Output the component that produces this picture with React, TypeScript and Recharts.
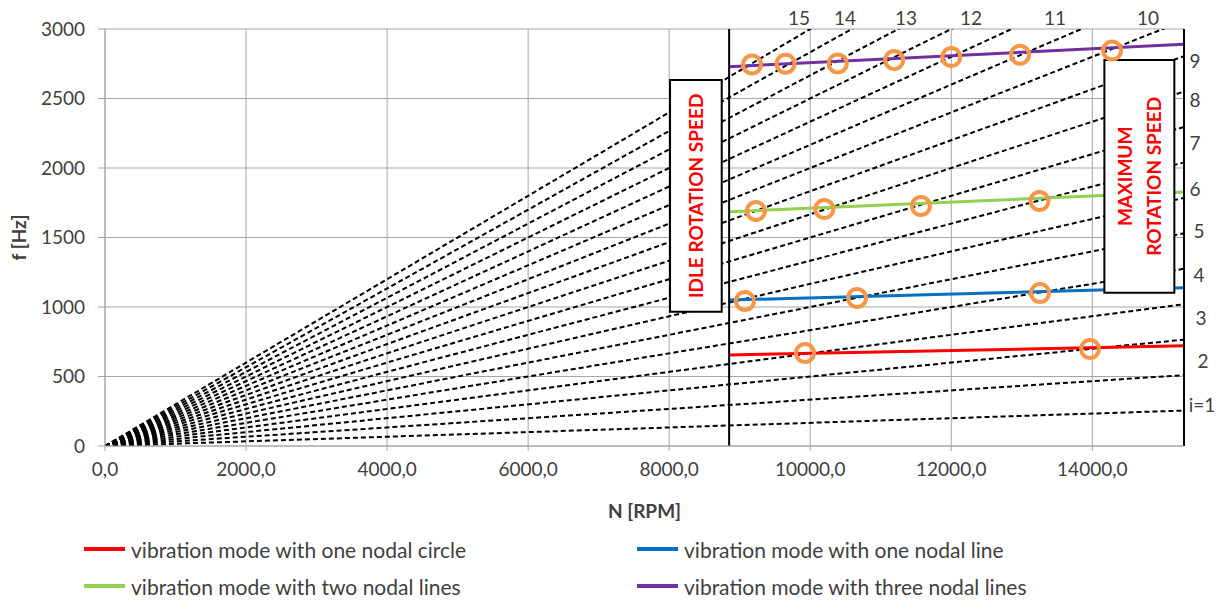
import React from 'react';
import {
  ComposedChart, Line, Scatter, XAxis, YAxis, CartesianGrid, ReferenceLine,
  ReferenceArea, ReferenceDot, Legend,
} from 'recharts';

const FONT = 'Lato, "Open Sans", sans-serif';
const TEXT = '#404040';

// Axes
const X_TICKS = [0, 2000, 4000, 6000, 8000, 10000, 12000, 14000];
const Y_TICKS = [0, 500, 1000, 1500, 2000, 2500, 3000];
const X_MAX = 15300;
const Y_MAX = 3000;

// Idle / maximum rotation speed [RPM]
const IDLE_N = 8850;
const MAX_N = 15300;

// Engine-order lines: frequency reached at MAX_N for order i
const ORDERS = [1, 2, 3, 4, 5, 6, 7, 8, 9, 10, 11, 12, 13, 14, 15, 16, 17, 18];
const ORDER_END_F = [255, 510, 765, 1020, 1275, 1530, 1785, 2040, 2295, 2550, 2805, 3060, 3315, 3570, 3825, 4080, 4335, 4590];

// Vibration modes (start at idle, end at max)
const MODE_NAMES = [
  'vibration mode with one nodal circle',
  'vibration mode with one nodal line',
  'vibration mode with two nodal lines',
  'vibration mode with three nodal lines',
];
const MODE_COLORS = ['#FF0000', '#0070C0', '#92D050', '#7030A0'];
const MODE_START_F = [655, 1050, 1686, 2729];
const MODE_END_F = [721, 1139, 1827, 2890];

// Resonance circles
const RED_PTS_N = [9926, 13968];
const RED_PTS_F = [669, 698];
const BLUE_PTS_N = [9075, 10664, 13258];
const BLUE_PTS_F = [1043, 1065, 1101];
const GREEN_PTS_N = [9230, 10200, 11570, 13250];
const GREEN_PTS_F = [1691, 1705, 1727, 1763];
const PURPLE_PTS_N = [9175, 9650, 10390, 11190, 12000, 12975, 14280];
const PURPLE_PTS_F = [2745, 2750, 2752, 2777, 2799, 2815, 2845];

// Order labels
const TOP_LABELS = ['15', '14', '13', '12', '11', '10'];
const TOP_LABELS_N = [9841, 10494, 11358, 12280, 13471, 14790];
const TOP_LABEL_F = 3086;
const RIGHT_LABELS = ['9', '8', '7', '6', '5', '4', '3', '2', 'i=1'];
const RIGHT_LABELS_N = [15457, 15457, 15457, 15457, 15513, 15513, 15542, 15570, 15556];
const RIGHT_LABELS_F = [2770, 2496, 2180, 1856, 1547, 1237, 928, 612, 295];

// Annotation boxes
const IDLE_BOX = { n1: 8012, n2: 8745, f1: 966, f2: 2633 };
const MAX_BOX = { n1: 14171, n2: 15163, f1: 1103, f2: 2777 };

const zip = (ns: number[], fs: number[]) => ns.map((N, k) => ({ N, f: fs[k] }));

const Ring = (p: any) => (
  <circle cx={p.cx} cy={p.cy} r={9} fill="none" stroke="#F79646" strokeWidth={4} />
);

const boxLabel = (lines: string[]) => (props: any) => {
  const vb = props.viewBox || {};
  const cx = vb.x + vb.width / 2;
  const cy = vb.y + vb.height / 2;
  const gap = 29;
  return (
    <g>
      {lines.map((t, k) => {
        const x = cx + (k - (lines.length - 1) / 2) * gap;
        return (
          <text key={k} x={x} y={cy} transform={`rotate(-90 ${x} ${cy})`} textAnchor="middle"
            dominantBaseline="central" fill="#FF0000" fontWeight="bold" fontSize={19} fontFamily={FONT}>
            {t}
          </text>
        );
      })}
    </g>
  );
};

const textShape = (t: string) => (p: any) => (
  <text x={p.cx} y={p.cy} textAnchor="middle" dominantBaseline="central" fill={TEXT}
    fontSize={19} fontFamily={FONT}>{t}</text>
);

const LegendContent = () => (
  <div style={{ position: 'relative', width: 1221, height: 70, fontFamily: FONT, fontSize: 21, color: TEXT }}>
    {MODE_NAMES.map((name, k) => (
      <div key={k} style={{
        position: 'absolute', left: k % 2 ? 637 : 84, top: k < 2 ? 6 : 43,
        display: 'flex', alignItems: 'center', height: 24, whiteSpace: 'nowrap',
      }}>
        <span style={{ display: 'inline-block', width: 41, height: 4, background: MODE_COLORS[k], marginRight: 6 }} />
        <span>{name}</span>
      </div>
    ))}
  </div>
);

export default function App() {
  return (
    <div style={{ position: 'absolute', left: 0, top: 0, background: '#fff' }}>
      <ComposedChart width={1221} height={601} margin={{ top: 29, right: 37, bottom: 0, left: 0 }}>
        <CartesianGrid stroke="#a6a6a6" strokeWidth={1} />
        <XAxis type="number" dataKey="N" domain={[0, X_MAX]} ticks={X_TICKS} interval={0}
          allowDataOverflow tickFormatter={(v: number) => `${v},0`} height={85}
          tickSize={5} tickMargin={12} stroke="#a6a6a6"
          tick={{ fill: TEXT, fontSize: 19, fontFamily: FONT }}
          label={{
            content: (p: any) => (
              <text x={p.viewBox.x + p.viewBox.width / 2} y={p.viewBox.y + 64} textAnchor="middle"
                dominantBaseline="central" fill={TEXT} fontWeight="bold" fontSize={19} fontFamily={FONT}>
                N [RPM]
              </text>
            ),
          }} />
        <YAxis type="number" dataKey="f" domain={[0, Y_MAX]} ticks={Y_TICKS} interval={0}
          allowDataOverflow width={105} tickSize={7} tickMargin={13} stroke="#a6a6a6"
          tick={{ fill: TEXT, fontSize: 19, fontFamily: FONT }}
          label={{
            content: (p: any) => {
              const x = p.viewBox.x + 18;
              const y = p.viewBox.y + p.viewBox.height / 2;
              return (
                <text x={x} y={y} transform={`rotate(-90 ${x} ${y})`} textAnchor="middle"
                  dominantBaseline="central" fill={TEXT} fontWeight="bold" fontSize={19} fontFamily={FONT}>
                  f [Hz]
                </text>
              );
            },
          }} />
        <Legend verticalAlign="bottom" height={70} content={LegendContent}
          wrapperStyle={{ left: 0, width: 1221 }} />

        {ORDERS.map((i, k) => (
          <Line key={`o${i}`} data={[{ N: 0, f: 0 }, { N: MAX_N, f: ORDER_END_F[k] }]} dataKey="f"
            stroke="#000" strokeWidth={2} strokeDasharray="5 3" dot={false} activeDot={false}
            isAnimationActive={false} legendType="none" />
        ))}

        {MODE_NAMES.map((name, k) => (
          <Line key={`m${k}`} name={name}
            data={[{ N: IDLE_N, f: MODE_START_F[k] }, { N: MAX_N, f: MODE_END_F[k] }]} dataKey="f"
            stroke={MODE_COLORS[k]} strokeWidth={3} dot={false} activeDot={false}
            isAnimationActive={false} />
        ))}

        <ReferenceLine x={IDLE_N} stroke="#000" strokeWidth={2} ifOverflow="visible" />
        <ReferenceLine x={MAX_N} stroke="#000" strokeWidth={2} ifOverflow="visible" />

        <ReferenceArea x1={IDLE_BOX.n1} x2={IDLE_BOX.n2} y1={IDLE_BOX.f1} y2={IDLE_BOX.f2}
          fill="#fff" fillOpacity={1} stroke="#000" strokeWidth={2} ifOverflow="visible" zIndex={450}
          label={boxLabel(['IDLE ROTATION SPEED'])} />
        <ReferenceArea x1={MAX_BOX.n1} x2={MAX_BOX.n2} y1={MAX_BOX.f1} y2={MAX_BOX.f2}
          fill="#fff" fillOpacity={1} stroke="#000" strokeWidth={2} ifOverflow="visible" zIndex={450}
          label={boxLabel(['MAXIMUM', 'ROTATION SPEED'])} />

        <Scatter data={zip(RED_PTS_N, RED_PTS_F)} dataKey="f" shape={Ring} isAnimationActive={false} legendType="none" />
        <Scatter data={zip(BLUE_PTS_N, BLUE_PTS_F)} dataKey="f" shape={Ring} isAnimationActive={false} legendType="none" />
        <Scatter data={zip(GREEN_PTS_N, GREEN_PTS_F)} dataKey="f" shape={Ring} isAnimationActive={false} legendType="none" />
        <Scatter data={zip(PURPLE_PTS_N, PURPLE_PTS_F)} dataKey="f" shape={Ring} isAnimationActive={false} legendType="none" />

        {TOP_LABELS.map((t, k) => (
          <ReferenceDot key={`t${k}`} x={TOP_LABELS_N[k]} y={TOP_LABEL_F} r={0} ifOverflow="visible"
            shape={textShape(t)} />
        ))}
        {RIGHT_LABELS.map((t, k) => (
          <ReferenceDot key={`r${k}`} x={RIGHT_LABELS_N[k]} y={RIGHT_LABELS_F[k]} r={0} ifOverflow="visible"
            shape={textShape(t)} />
        ))}
      </ComposedChart>
    </div>
  );
}
